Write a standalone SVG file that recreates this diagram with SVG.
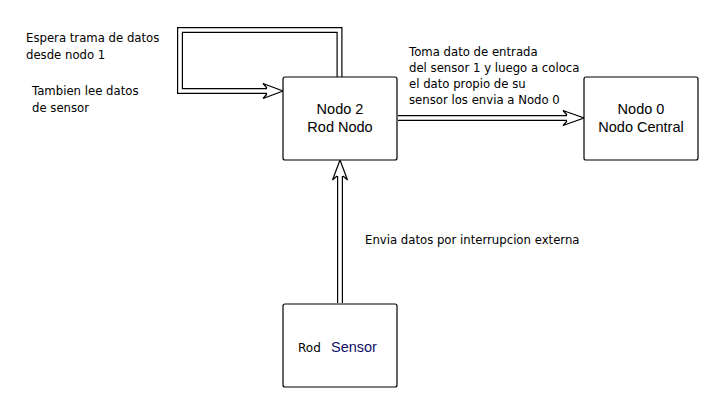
<svg xmlns="http://www.w3.org/2000/svg" width="726" height="400" viewBox="0 0 726 400">
<style>
.box{fill:#fff;stroke:#000;stroke-width:1.2}
.nt{font-family:"Liberation Sans",Arial,sans-serif;font-size:14.5px;fill:#000;text-anchor:middle}
.lb{font-family:"DejaVu Sans",Tahoma,sans-serif;font-size:11.7px;fill:#000}
.outer{fill:none;stroke:#000;stroke-width:6}
.inner{fill:none;stroke:#fff;stroke-width:3.6}
.ah{fill:#fff;stroke:#000;stroke-width:1.2;stroke-linejoin:miter}
</style>
<rect width="726" height="400" fill="#fff"/>
<g id="connectors">
  <path class="outer" d="M339.5 78 V30 H180 V91 H268"/>
  <path class="inner" d="M339.5 78 V30 H180 V91 H269"/>
  <path class="ah" d="M267 88 L263 83.5 L283 91 L263 98.5 L267 94"/>
  <path class="outer" d="M398 118 H568"/>
  <path class="inner" d="M396 118 H569"/>
  <path class="ah" d="M567 115 L563 110.5 L584 118 L563 125.5 L567 121"/>
  <path class="outer" d="M340 303 V175"/>
  <path class="inner" d="M340 305 V174"/>
  <path class="ah" d="M337 176 L332.5 180 L340 160 L347.5 180 L343 176"/>
</g>
<g id="nodo2">
  <rect class="box" x="283" y="77" width="114" height="83" rx="2"/>
  <text class="nt" x="340" y="114">Nodo 2</text>
  <text class="nt" x="340" y="132">Rod Nodo</text>
</g>
<g id="nodo0">
  <rect class="box" x="584" y="77" width="114" height="83" rx="2"/>
  <text class="nt" x="641" y="114">Nodo 0</text>
  <text class="nt" x="641" y="132">Nodo Central</text>
</g>
<g id="sensor">
  <rect class="box" x="283" y="304" width="114" height="83" rx="2"/>
  <text x="298" y="352"><tspan font-family="DejaVu Sans, Tahoma, sans-serif" font-size="12" fill="#000">Rod</tspan><tspan x="331" font-family="Liberation Sans, Arial, sans-serif" font-size="14.5" fill="#10106a">Sensor</tspan></text>
</g>
<g id="labels">
  <text class="lb" x="26" y="42">Espera trama de datos</text>
  <text class="lb" x="26" y="59">desde nodo 1</text>
  <text class="lb" x="32" y="95">Tambien lee datos</text>
  <text class="lb" x="32" y="112">de sensor</text>
  <text class="lb" x="409" y="56">Toma dato de entrada</text>
  <text class="lb" x="409" y="72">del sensor 1 y luego a coloca</text>
  <text class="lb" x="409" y="88">el dato propio de su</text>
  <text class="lb" x="409" y="104">sensor los envia a Nodo 0</text>
  <text class="lb" x="365" y="244">Envia datos por interrupcion externa</text>
</g>
</svg>
